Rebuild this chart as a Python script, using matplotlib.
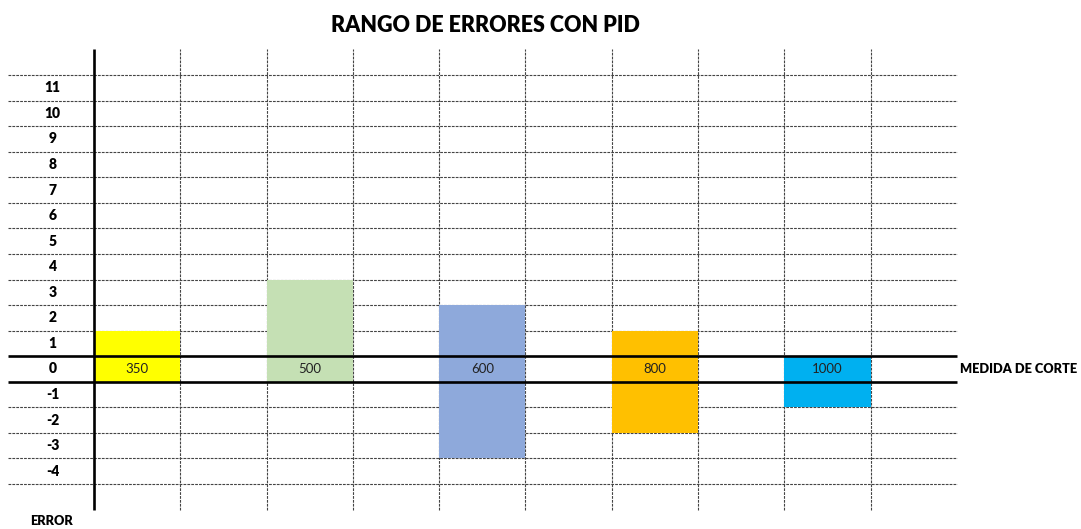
import numpy as np
import matplotlib.pyplot as plt

medidas = ["350", "500", "600", "800", "1000"]
error_max = [1, 3, 2, 1, 0]
error_min = [0, 0, -3, -2, -1]
colores = ["#FFFF00", "#C5E0B4", "#8EA9DB", "#FFC000", "#00B0F0"]
filas = list(range(-4, 12))

fig = plt.figure(figsize=(10.81, 5.29), dpi=100)
ax = fig.add_axes([0, 0, 1, 1])
ax.axis("off")

# escala: una columna = 86.3 px, una fila = 25.56 px
col_w = 86.3
row_h = 25.5625
ax.set_xlim(-94 / col_w, (1081 - 94) / col_w)
ax.set_ylim(11.5 - (529 - 75) / row_h, 11.5 + 75 / row_h)

font = ["Lato", "DejaVu Sans"]
grid_kw = dict(colors="#444444", linewidth=0.8, linestyles=(0, (2.5, 1)), zorder=1)

# cuadricula tipo hoja de calculo
bordes = np.arange(-4.5, 12.0, 1.0)
bordes = bordes[np.abs(bordes) != 0.5]
ax.hlines(bordes, -1, 10, **grid_kw)
ax.vlines(np.arange(1, 10), -5.5, 12.5, **grid_kw)

# barras de rango de error
pos = np.arange(len(medidas)) * 2
bottoms = np.array(error_min) - 0.5
heights = np.array(error_max) - np.array(error_min) + 1
ax.bar(pos, heights, bottom=bottoms, width=1, align="edge", color=colores,
       edgecolor="none", zorder=2)
for p, m in zip(pos, medidas):
    ax.text(p + 0.5, 0, m, ha="center", va="center", fontsize=9.5,
            family=font, color="#222222", zorder=4)

# lineas gruesas de la fila 0 y eje vertical
ax.hlines([0.5, -0.5], -1, 10, colors="black", linewidth=1.9, zorder=3)
ax.vlines(0, -5.5, 12.5, colors="black", linewidth=1.9, zorder=3)

for v in filas:
    ax.text(-0.48, v, str(v), ha="center", va="center", fontsize=10,
            fontweight="heavy", family=font)

ax.text(10.04, 0, "MEDIDA DE CORTE", ha="left", va="center", fontsize=9.2,
        fontweight="heavy", family=font)
ax.text(-0.49, -5.95, "ERROR", ha="center", va="center", fontsize=9.2,
        fontweight="heavy", family=font)

fig.text(485 / 1081, 1 - 26 / 529, "RANGO DE ERRORES CON PID", ha="center",
         va="center", fontsize=15.5, fontweight="heavy", family=font)

fig.savefig("out.png", dpi=100)
